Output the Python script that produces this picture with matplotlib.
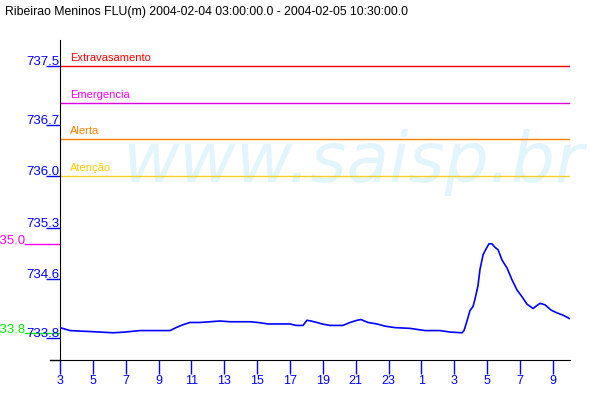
import math

import matplotlib
matplotlib.use('Agg')
import matplotlib.pyplot as plt
import matplotlib.transforms as mtransforms

plt.rcParams['font.family'] = ['Liberation Sans', 'DejaVu Sans']

# hours since 2004-02-04 03:00 and level (m)
hours = [0.0, 0.61, 2.43, 3.23, 3.96, 4.87, 6.70, 7.06, 7.49, 7.91, 8.52,
         9.13, 9.74, 10.35, 11.56, 12.05, 12.66, 14.0, 14.36, 14.79, 15.03,
         15.28, 15.64, 15.95, 16.43, 17.22, 17.65, 18.08, 18.32, 18.75,
         19.29, 19.78, 20.39, 21.30, 22.22, 23.13, 23.74, 24.47, 24.59,
         24.77, 24.95, 25.14, 25.26, 25.44, 25.56, 25.75, 25.93, 26.11,
         26.29, 26.48, 26.66, 26.90, 27.21, 27.51, 27.82, 28.12, 28.42,
         28.79, 29.21, 29.52, 29.88, 30.25, 30.61, 31.04]
level = [733.94, 733.90, 733.88, 733.87, 733.88, 733.90, 733.90, 733.94,
         733.98, 734.01, 734.01, 734.02, 734.03, 734.02, 734.02, 734.01,
         733.99, 733.99, 733.97, 733.97, 734.04, 734.03, 734.01, 733.99,
         733.97, 733.97, 734.01, 734.04, 734.05, 734.01, 733.99, 733.96,
         733.94, 733.93, 733.90, 733.90, 733.88, 733.87, 733.90, 734.03,
         734.17, 734.23, 734.33, 734.51, 734.73, 734.93, 735.01, 735.08,
         735.08, 735.03, 735.00, 734.86, 734.75, 734.59, 734.45, 734.36,
         734.26, 734.20, 734.27, 734.25, 734.18, 734.14, 734.11, 734.06]

thresh_names = ['Extravasamento', 'Emergencia', 'Alerta', 'Atenção']
thresh_values = [737.5, 737.0, 736.5, 736.0]
thresh_text_colors = ['#ff0000', '#ff00ff', '#ff8000', '#ffcc00']
thresh_line_colors = ['#ee0000', '#dd00dd', '#ff8000', '#f5d020']

ytick_values = [737.5, 736.7, 736.0, 735.3, 734.6, 733.8]
xtick_hours = list(range(0, 31, 2))
xtick_labels = [str((3 + h) % 24) for h in xtick_hours]

title = 'Ribeirao Meninos FLU(m) 2004-02-04 03:00:00.0 - 2004-02-05 10:30:00.0'

fig = plt.figure(figsize=(6, 4), dpi=100)
ax = fig.add_axes([0.1, 0.1, 0.85, 0.8])
ax.set_xlim(0, 31.04)
ax.set_ylim(733.50, 737.85)

for s in ('top', 'right'):
    ax.spines[s].set_visible(False)
# bottom axis line sticks out a bit to the left
ax.plot([-10 / 510, 0], [0, 0], transform=ax.transAxes, color='black',
        lw=1, clip_on=False)

# watermark
ax.text(0.575, 0.556, 'www.saisp.br', transform=ax.transAxes, ha='center',
        va='baseline', fontsize=50, style='italic', color='#e2f5fc',
        family='DejaVu Sans', zorder=0)

ytr = ax.get_yaxis_transform()
for name, v, tc, lc in zip(thresh_names, thresh_values,
                           thresh_text_colors, thresh_line_colors):
    ax.axhline(v, color=lc, lw=1, zorder=2)
    off = mtransforms.offset_copy(ytr, fig=fig, x=0, y=5, units='dots')
    ax.text(10 / 510, v, name, transform=off, color=tc, fontsize=8,
            va='baseline', ha='left')

ax.plot(hours, level, color='#0000ff', lw=1.2, zorder=3)

# x ticks
ax.set_xticks(xtick_hours)
ax.set_xticklabels(xtick_labels)
ax.tick_params(axis='x', length=10, width=1, colors='#0000ff',
               labelsize=9, pad=1)
ax.spines['bottom'].set_color('black')

# y ticks: marks drawn by matplotlib, labels sit on top of the marks
ax.set_yticks(ytick_values)
ax.set_yticklabels([''] * len(ytick_values))
ax.tick_params(axis='y', length=10, width=1, colors='#0000ff')
ax.spines['left'].set_color('black')
for v in ytick_values:
    off = mtransforms.offset_copy(ytr, fig=fig, x=-1, y=1, units='dots')
    ax.text(0, v, f'{v:.1f}', transform=off, color='#0000ff', fontsize=9.5,
            ha='right', va='baseline')

# max / min markers at the left
vmax = max(level)
vmin = min(level)
for v, c in ((vmax, '#ff00ff'), (vmin, '#00ee00')):
    ax.plot([-35 / 510, 0], [v, v], transform=ytr, color=c, lw=1,
            clip_on=False)
    ax.text(-35 / 510, v, f'{math.floor(v * 10) / 10:.1f}', transform=ytr,
            color=c, fontsize=9.5, ha='right', va='baseline')

fig.text(5 / 600, 1 - 12 / 400, title, fontsize=8.8, va='center',
         ha='left', color='black')

fig.savefig('out.png', dpi=100)
